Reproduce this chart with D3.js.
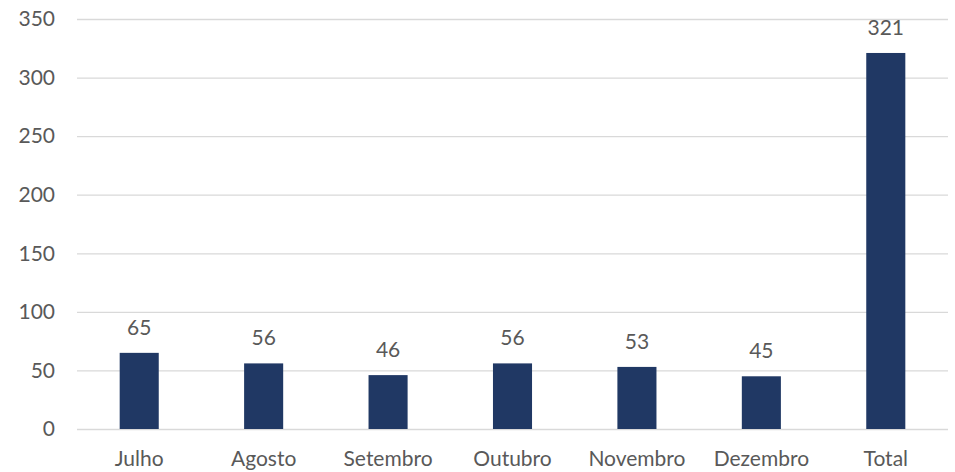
<!doctype html>
<html>
<head>
<meta charset="utf-8">
<script src="https://d3js.org/d3.v7.min.js"></script>
<style>
  body { margin: 0; background: #fff; }
  svg { display: block; }
  text { font-family: Lato, "Open Sans", sans-serif; fill: #595959; }
</style>
</head>
<body>
<svg id="chart" width="955" height="472"></svg>
<script>
// data
var months = ["Julho", "Agosto", "Setembro", "Outubro", "Novembro", "Dezembro", "Total"];
var counts = [65, 56, 46, 56, 53, 45, 321];
var yTicks = [0, 50, 100, 150, 200, 250, 300, 350];

var svg = d3.select("#chart");
var plotLeft = 77, plotRight = 948, plotTop = 19, plotBottom = 429;
var fontSize = "21px";

var x = d3.scaleBand()
  .domain(months)
  .range([plotLeft, plotRight])
  .paddingInner(0.686)
  .paddingOuter(0.343);

var y = d3.scaleLinear()
  .domain([0, 350])
  .range([plotBottom, plotTop]);

// gridlines
svg.append("g")
  .selectAll("line")
  .data(yTicks)
  .enter()
  .append("line")
  .attr("x1", plotLeft)
  .attr("x2", plotRight)
  .attr("y1", d => y(d) + 0.5)
  .attr("y2", d => y(d) + 0.5)
  .attr("stroke", "#d9d9d9")
  .attr("stroke-width", 1.3);

// y axis labels
var yAxis = d3.axisLeft(y).tickValues(yTicks).tickSize(0).tickPadding(22);
var gy = svg.append("g").attr("transform", "translate(" + plotLeft + ",0)").call(yAxis);
gy.select(".domain").remove();
gy.selectAll("text").style("font-size", fontSize).style("font-family", "Lato").attr("fill", "#595959");

// x axis labels
var xAxis = d3.axisBottom(x).tickSize(0).tickPadding(22);
var gx = svg.append("g").attr("transform", "translate(0," + plotBottom + ")").call(xAxis);
gx.select(".domain").remove();
gx.selectAll("text").style("font-size", fontSize).style("font-family", "Lato").attr("fill", "#595959");

// bars
svg.append("g")
  .selectAll("rect")
  .data(counts)
  .enter()
  .append("rect")
  .attr("x", (d, i) => x(months[i]))
  .attr("width", x.bandwidth())
  .attr("y", d => y(d))
  .attr("height", d => y(0) - y(d))
  .attr("fill", "#203864");

// value labels
svg.append("g")
  .selectAll("text")
  .data(counts)
  .enter()
  .append("text")
  .attr("x", (d, i) => x(months[i]) + x.bandwidth() / 2)
  .attr("y", d => y(d) - 18)
  .attr("text-anchor", "middle")
  .style("font-size", fontSize)
  .text(d => d);
</script>
</body>
</html>
